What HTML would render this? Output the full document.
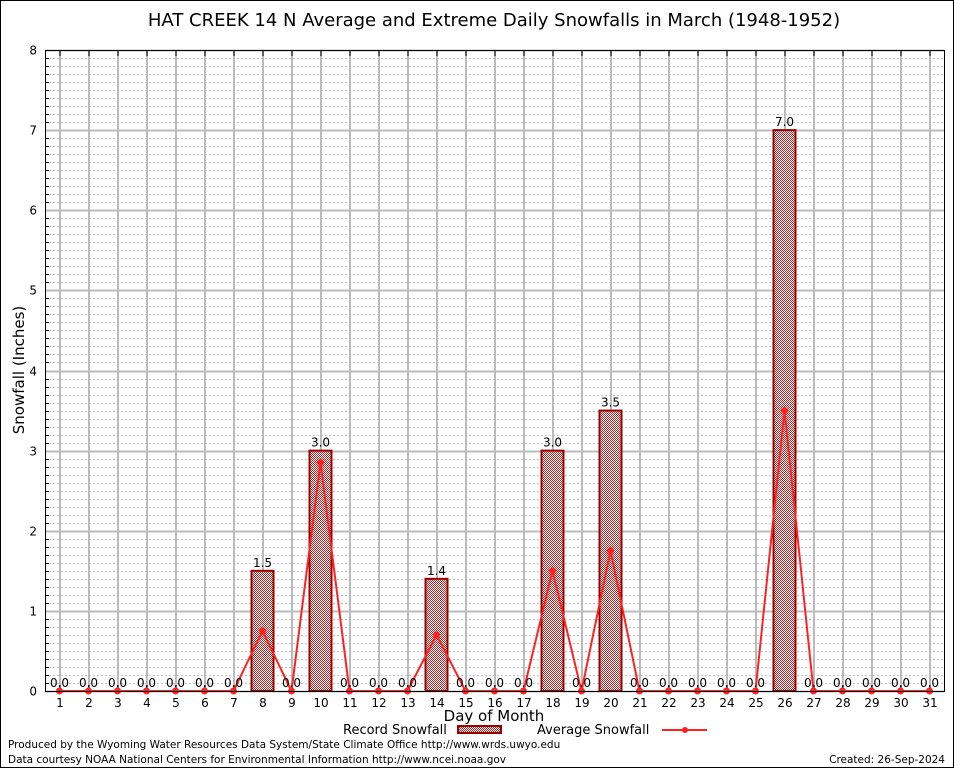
<!DOCTYPE html>
<html><head><meta charset="utf-8"><style>
body{margin:0;background:#fff;}
svg text{font-family:"DejaVu Sans","Liberation Sans",sans-serif;}
</style></head><body>
<svg id="chart" width="954" height="768" xmlns="http://www.w3.org/2000/svg">
<defs>
<pattern id="chk" width="2" height="2" patternUnits="userSpaceOnUse">
<rect width="2" height="2" fill="#fff"/><rect width="1" height="1" fill="#b22"/><rect x="1" y="1" width="1" height="1" fill="#b22"/>
</pattern>
</defs>
<rect x="0.5" y="0.5" width="953" height="767" fill="#fff" stroke="#000"/>
<text x="494" y="26" font-size="18" text-anchor="middle">HAT CREEK 14 N Average and Extreme Daily Snowfalls in March (1948-1952)</text>
<g id="grid"></g>
<g id="bars"></g>
<g id="line"></g>
<g id="labels"></g>
<rect x="45.5" y="50.5" width="899" height="641" fill="none" stroke="#000"/>
<text transform="translate(24,370) rotate(-90)" font-size="15" text-anchor="middle">Snowfall (Inches)</text>
<text x="494" y="721" font-size="15" text-anchor="middle">Day of Month</text>
<g>
<text x="343" y="734" font-size="13">Record Snowfall</text>
<rect x="458" y="726" width="43" height="7" fill="url(#chk)" stroke="#900" stroke-width="2"/>
</g>
<g>
<text x="537" y="734" font-size="13">Average Snowfall</text>
<line x1="662" y1="730" x2="707" y2="730" stroke="#f22" stroke-width="2"/>
<circle cx="685" cy="730" r="3" fill="#f22"/>
</g>
<text x="8" y="748" font-size="10.5">Produced by the Wyoming Water Resources Data System/State Climate Office http://www.wrds.uwyo.edu</text>
<text x="8" y="763" font-size="10.5">Data courtesy NOAA National Centers for Environmental Information http://www.ncei.noaa.gov</text>
<text x="945" y="763" font-size="10.5" text-anchor="end">Created:  26-Sep-2024</text>
</svg>
<script>
const days=[1,2,3,4,5,6,7,8,9,10,11,12,13,14,15,16,17,18,19,20,21,22,23,24,25,26,27,28,29,30,31];
const recordSnow=[0,0,0,0,0,0,0,1.5,0,3.0,0,0,0,1.4,0,0,0,3.0,0,3.5,0,0,0,0,0,7.0,0,0,0,0,0];
const avgSnow=[0,0,0,0,0,0,0,0.75,0,2.85,0,0,0,0.7,0,0,0,1.5,0,1.75,0,0,0,0,0,3.5,0,0,0,0,0];
const yTicks=[0,1,2,3,4,5,6,7,8];
const NS="http://www.w3.org/2000/svg";
const X0=45,X1=944,Y0=691,Y1=50,YMAX=8;
const xs=d=>X0+(d-0.5)*(X1-X0)/31;
const ys=v=>Y0-v*(Y0-Y1)/YMAX;
function mk(tag,attrs,parent){const e=document.createElementNS(NS,tag);for(const k in attrs)e.setAttribute(k,attrs[k]);parent.appendChild(e);return e;}
const grid=document.getElementById('grid'),bars=document.getElementById('bars'),line=document.getElementById('line'),labels=document.getElementById('labels');
for(let i=0;i<YMAX*10;i++){
  if(i%10===0)continue;
  const y=Math.round(ys(i/10))+0.5;
  const l=mk('line',{x1:X0,x2:X1,y1:y,y2:y,stroke:'#c4c4c4','stroke-dasharray':'2,2'},grid);
  
  
  const t=mk('line',{x1:X0,x2:X0+4,y1:y,y2:y,stroke:'#000'},grid);
  
  
}
yTicks.forEach(v=>{
  const y=Math.round(ys(v))+0.5;
  const l=mk('line',{x1:X0,x2:X1,y1:y,y2:y,stroke:'#bbb','stroke-width':2},grid);
  
  
  const t=mk('text',{x:X0-8,y:y+4,'font-size':12,'text-anchor':'end','font-family':'Liberation Serif, serif'},grid);
  t.textContent=v;
  
  
});
days.forEach(d=>{
  const x=Math.round(xs(d));
  const l=mk('line',{x1:x,x2:x,y1:Y1,y2:Y0,stroke:'#bbb','stroke-width':2},grid);
  
  
  const tk=mk('line',{x1:x,x2:x,y1:Y1,y2:Y1+6,stroke:'#000'},grid);
  
  
  const tb=mk('line',{x1:x,x2:x,y1:Y0,y2:Y0-6,stroke:'#000'},grid);
  
  
  const t=mk('text',{x:x,y:Y0+16,'font-size':12,'text-anchor':'middle','font-family':'Liberation Serif, serif'},grid);
  t.textContent=d;
  
  
});
const bw=22;
days.forEach((d,i)=>{
  const v=recordSnow[i];
  const x=xs(d);
  if(v>0){
    const r=mk('rect',{x:x-bw/2,y:ys(v),width:bw,height:ys(0)-ys(v),fill:'url(#chk)',stroke:'#900','stroke-width':2},bars);
    
    
  }
  const t=mk('text',{x:x,y:ys(v)-4,'font-size':12,'text-anchor':'middle'},labels);
  t.textContent=v.toFixed(1);
  
  
});
const pts=days.map((d,i)=>xs(d)+','+ys(avgSnow[i])).join(' ');
const pl=mk('polyline',{points:pts,fill:'none',stroke:'#f22','stroke-width':2},line);


days.forEach((d,i)=>{
  const c=mk('circle',{cx:xs(d),cy:ys(avgSnow[i]),r:3.5,fill:'#f22'},line);
  
  
});
</script>
</body></html>
